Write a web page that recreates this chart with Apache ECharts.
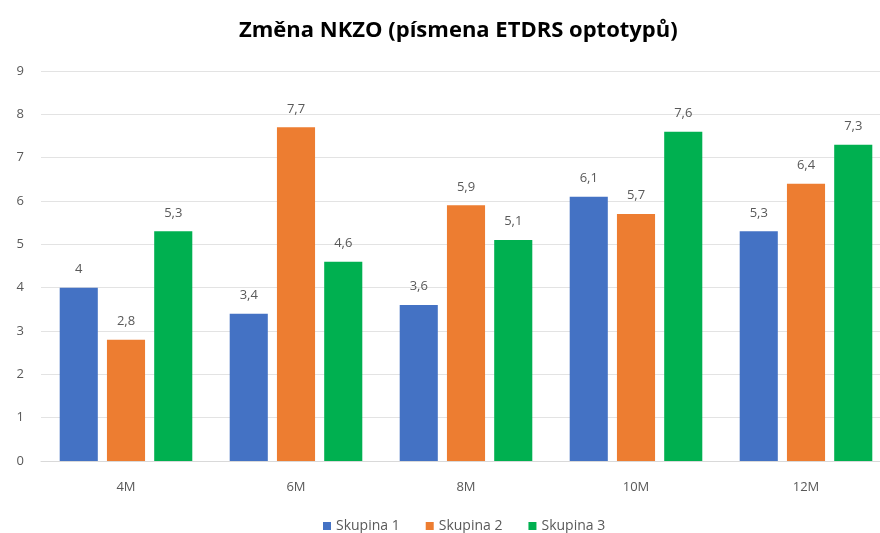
<!DOCTYPE html>
<html><head><meta charset="utf-8">
<script src="https://cdn.jsdelivr.net/npm/echarts@6/dist/echarts.min.js"></script>
<style>html,body{margin:0;padding:0;background:#fff}#c{width:880px;height:533px}</style>
</head><body><div id="c"></div>
<script>
var categories = ['4M', '6M', '8M', '10M', '12M'];
var skupina1 = [4, 3.4, 3.6, 6.1, 5.3];
var skupina2 = [2.8, 7.7, 5.9, 5.7, 6.4];
var skupina3 = [5.3, 4.6, 5.1, 7.6, 7.3];
var seriesNames = ['Skupina 1', 'Skupina 2', 'Skupina 3'];
var yTicks = [0, 1, 2, 3, 4, 5, 6, 7, 8, 9];

var colors = ['#4472C4', '#ED7D31', '#00B050'];
var fontFam = '"Open Sans", "Liberation Sans", sans-serif';
function mk(name, data, color) {
  return {
    name: name, type: 'bar', data: data,
    itemStyle: { color: color },
    barGap: '24%', barCategoryGap: '22%',
    label: {
      show: true, position: 'top', distance: 12,
      color: '#595959', fontSize: 13, fontFamily: fontFam,
      formatter: function (p) { return String(p.value).replace('.', ','); }
    }
  };
}
var chart = echarts.init(document.getElementById('c'), null, { renderer: 'canvas' });
chart.setOption({
  animation: false,
  backgroundColor: '#ffffff',
  title: {
    text: 'Změna NKZO (písmena ETDRS optotypů)',
    left: 234, top: 15,
    textStyle: { fontSize: 22, fontWeight: 'bold', color: '#000', fontFamily: fontFam }
  },
  legend: {
    data: seriesNames, top: 514, left: 318,
    itemWidth: 8, itemHeight: 8, itemGap: 26, icon: 'rect',
    textStyle: { color: '#595959', fontSize: 14, fontFamily: fontFam }
  },
  grid: { left: 41, width: 850, top: 71, bottom: 72, outerBoundsMode: 'none', containLabel: false },
  xAxis: {
    type: 'category', data: categories,
    axisLine: { lineStyle: { color: '#d9d9d9' } },
    axisTick: { show: false },
    axisLabel: { color: '#595959', fontSize: 13, fontFamily: fontFam, margin: 20 }
  },
  yAxis: {
    type: 'value', min: yTicks[0], max: yTicks[yTicks.length - 1], interval: 1,
    axisLine: { show: false }, axisTick: { show: false },
    splitLine: { lineStyle: { color: '#e3e3e3' } },
    axisLabel: { color: '#595959', fontSize: 13, fontFamily: fontFam, margin: 17 }
  },
  series: [mk(seriesNames[0], skupina1, colors[0]), mk(seriesNames[1], skupina2, colors[1]), mk(seriesNames[2], skupina3, colors[2])]
});
</script></body></html>
